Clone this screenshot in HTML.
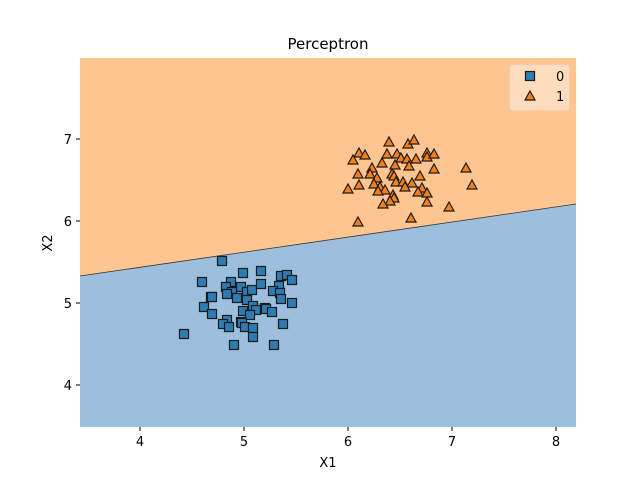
<!DOCTYPE html>
<html><head><meta charset="utf-8"><style>body{margin:0;background:#fff}svg{display:block}text{font-family:"DejaVu Sans","Liberation Sans",sans-serif;fill:#000}</style></head><body>
<svg width="640" height="480" xmlns="http://www.w3.org/2000/svg">
<rect width="640" height="480" fill="#fff"/>
<polygon points="80,58 576,58 576,204 80,276" fill="#ffc591"/>
<polygon points="80,276 576,204 576,427 80,427" fill="#9bbfdc"/>
<line x1="80" y1="276" x2="576" y2="204" stroke="#333" stroke-width="0.8"/>
<g fill="#2a7ab5" stroke="#111" stroke-width="1.2" fill-opacity="0.9">
<script type="text/plain"></script>
</g>
<g id="sq" fill="#2d7cb6" stroke="#1a1a1a" stroke-width="1.2">
<rect x="217.5" y="256.5" width="9" height="9"/><rect x="238.5" y="268.5" width="9" height="9"/><rect x="256.5" y="266.5" width="9" height="9"/><rect x="197.5" y="277.5" width="9" height="9"/><rect x="226.5" y="277.5" width="9" height="9"/><rect x="221.5" y="282.5" width="9" height="9"/><rect x="236.5" y="282.5" width="9" height="9"/><rect x="242.5" y="287.5" width="9" height="9"/><rect x="247.5" y="285.5" width="9" height="9"/><rect x="227.5" y="287.5" width="9" height="9"/><rect x="222.5" y="289.5" width="9" height="9"/><rect x="232.5" y="293.5" width="9" height="9"/><rect x="242.5" y="295.5" width="9" height="9"/><rect x="256.5" y="279.5" width="9" height="9"/><rect x="276.5" y="271.5" width="9" height="9"/><rect x="282.5" y="270.5" width="9" height="9"/><rect x="287.5" y="275.5" width="9" height="9"/><rect x="274.5" y="281.5" width="9" height="9"/><rect x="268.5" y="286.5" width="9" height="9"/><rect x="275.5" y="288.5" width="9" height="9"/><rect x="276.5" y="294.5" width="9" height="9"/><rect x="287.5" y="298.5" width="9" height="9"/><rect x="206.5" y="292.5" width="9" height="9"/><rect x="207.5" y="292.5" width="9" height="9"/><rect x="199.5" y="302.5" width="9" height="9"/><rect x="207.5" y="309.5" width="9" height="9"/><rect x="238.5" y="306.5" width="9" height="9"/><rect x="248.5" y="301.5" width="9" height="9"/><rect x="251.5" y="305.5" width="9" height="9"/><rect x="260.5" y="303.5" width="9" height="9"/><rect x="261.5" y="304.5" width="9" height="9"/><rect x="267.5" y="307.5" width="9" height="9"/><rect x="245.5" y="310.5" width="9" height="9"/><rect x="222.5" y="315.5" width="9" height="9"/><rect x="218.5" y="319.5" width="9" height="9"/><rect x="224.5" y="322.5" width="9" height="9"/><rect x="236.5" y="317.5" width="9" height="9"/><rect x="237.5" y="318.5" width="9" height="9"/><rect x="240.5" y="322.5" width="9" height="9"/><rect x="248.5" y="323.5" width="9" height="9"/><rect x="248.5" y="332.5" width="9" height="9"/><rect x="278.5" y="319.5" width="9" height="9"/><rect x="179.5" y="329.5" width="9" height="9"/><rect x="229.5" y="340.5" width="9" height="9"/><rect x="269.5" y="340.5" width="9" height="9"/>
</g>
<g fill="#f7801a" stroke="#1a1a1a" stroke-width="1.2">
<path id="t" d="M0,-5 L5,4 L-5,4 Z" transform="translate(389,142)"/>
<path d="M0,-5 L5,4 L-5,4 Z" transform="translate(408,144)"/><path d="M0,-5 L5,4 L-5,4 Z" transform="translate(414,140)"/><path d="M0,-5 L5,4 L-5,4 Z" transform="translate(359,153)"/><path d="M0,-5 L5,4 L-5,4 Z" transform="translate(365,155)"/><path d="M0,-5 L5,4 L-5,4 Z" transform="translate(353,160)"/><path d="M0,-5 L5,4 L-5,4 Z" transform="translate(387,154)"/><path d="M0,-5 L5,4 L-5,4 Z" transform="translate(397,154)"/><path d="M0,-5 L5,4 L-5,4 Z" transform="translate(401,158)"/><path d="M0,-5 L5,4 L-5,4 Z" transform="translate(407,159)"/><path d="M0,-5 L5,4 L-5,4 Z" transform="translate(416,159)"/><path d="M0,-5 L5,4 L-5,4 Z" transform="translate(427,153)"/><path d="M0,-5 L5,4 L-5,4 Z" transform="translate(427,157)"/><path d="M0,-5 L5,4 L-5,4 Z" transform="translate(434,154)"/><path d="M0,-5 L5,4 L-5,4 Z" transform="translate(382,163)"/><path d="M0,-5 L5,4 L-5,4 Z" transform="translate(395,165)"/><path d="M0,-5 L5,4 L-5,4 Z" transform="translate(409,166)"/><path d="M0,-5 L5,4 L-5,4 Z" transform="translate(372,168)"/><path d="M0,-5 L5,4 L-5,4 Z" transform="translate(466,168)"/><path d="M0,-5 L5,4 L-5,4 Z" transform="translate(434,169)"/><path d="M0,-5 L5,4 L-5,4 Z" transform="translate(358,174)"/><path d="M0,-5 L5,4 L-5,4 Z" transform="translate(370,174)"/><path d="M0,-5 L5,4 L-5,4 Z" transform="translate(377,178)"/><path d="M0,-5 L5,4 L-5,4 Z" transform="translate(392,174)"/><path d="M0,-5 L5,4 L-5,4 Z" transform="translate(394,176)"/><path d="M0,-5 L5,4 L-5,4 Z" transform="translate(420,176)"/><path d="M0,-5 L5,4 L-5,4 Z" transform="translate(396,182)"/><path d="M0,-5 L5,4 L-5,4 Z" transform="translate(403,182)"/><path d="M0,-5 L5,4 L-5,4 Z" transform="translate(412,183)"/><path d="M0,-5 L5,4 L-5,4 Z" transform="translate(405,187)"/><path d="M0,-5 L5,4 L-5,4 Z" transform="translate(374,184)"/><path d="M0,-5 L5,4 L-5,4 Z" transform="translate(380,187)"/><path d="M0,-5 L5,4 L-5,4 Z" transform="translate(385,190)"/><path d="M0,-5 L5,4 L-5,4 Z" transform="translate(378,191)"/><path d="M0,-5 L5,4 L-5,4 Z" transform="translate(348,189)"/><path d="M0,-5 L5,4 L-5,4 Z" transform="translate(359,185)"/><path d="M0,-5 L5,4 L-5,4 Z" transform="translate(422,188)"/><path d="M0,-5 L5,4 L-5,4 Z" transform="translate(418,192)"/><path d="M0,-5 L5,4 L-5,4 Z" transform="translate(427,193)"/><path d="M0,-5 L5,4 L-5,4 Z" transform="translate(472,185)"/><path d="M0,-5 L5,4 L-5,4 Z" transform="translate(393,195)"/><path d="M0,-5 L5,4 L-5,4 Z" transform="translate(394,198)"/><path d="M0,-5 L5,4 L-5,4 Z" transform="translate(390,201)"/><path d="M0,-5 L5,4 L-5,4 Z" transform="translate(383,204)"/><path d="M0,-5 L5,4 L-5,4 Z" transform="translate(427,202)"/><path d="M0,-5 L5,4 L-5,4 Z" transform="translate(449,207)"/><path d="M0,-5 L5,4 L-5,4 Z" transform="translate(411,218)"/><path d="M0,-5 L5,4 L-5,4 Z" transform="translate(358,222)"/>
</g>
<rect x="510" y="65" width="59" height="45" rx="2" fill="#fff" fill-opacity="0.4" stroke="#ddd" stroke-opacity="0.6"/>
<rect x="525.5" y="71.5" width="9" height="9" fill="#2d7cb6" stroke="#1a1a1a" stroke-width="1.2"/>
<path d="M0,-5 L5,4 L-5,4 Z" transform="translate(530,96)" fill="#f7801a" stroke="#1a1a1a" stroke-width="1.2"/>
<text x="556" y="81" font-size="13">0</text>
<text x="556" y="101" font-size="13">1</text>
<g stroke="#000" stroke-width="1">
<line x1="140" y1="427" x2="140" y2="431"/><line x1="244" y1="427" x2="244" y2="431"/><line x1="348" y1="427" x2="348" y2="431"/><line x1="452" y1="427" x2="452" y2="431"/><line x1="556" y1="427" x2="556" y2="431"/>
<line x1="76" y1="139" x2="80" y2="139"/><line x1="76" y1="221" x2="80" y2="221"/><line x1="76" y1="303" x2="80" y2="303"/><line x1="76" y1="385" x2="80" y2="385"/>
</g>
<g font-size="13" text-anchor="middle">
<text x="140" y="446">4</text><text x="244" y="446">5</text><text x="348" y="446">6</text><text x="452" y="446">7</text><text x="556" y="446">8</text>
<text x="328" y="467">X1</text>
<text x="328" y="49" font-size="15">Perceptron</text>
</g>
<g font-size="13" text-anchor="end">
<text x="72" y="144">7</text><text x="72" y="226">6</text><text x="72" y="308">5</text><text x="72" y="390">4</text>
</g>
<text x="52" y="243" font-size="13" text-anchor="middle" transform="rotate(-90 52 243)">X2</text>
</svg>
</body></html>
